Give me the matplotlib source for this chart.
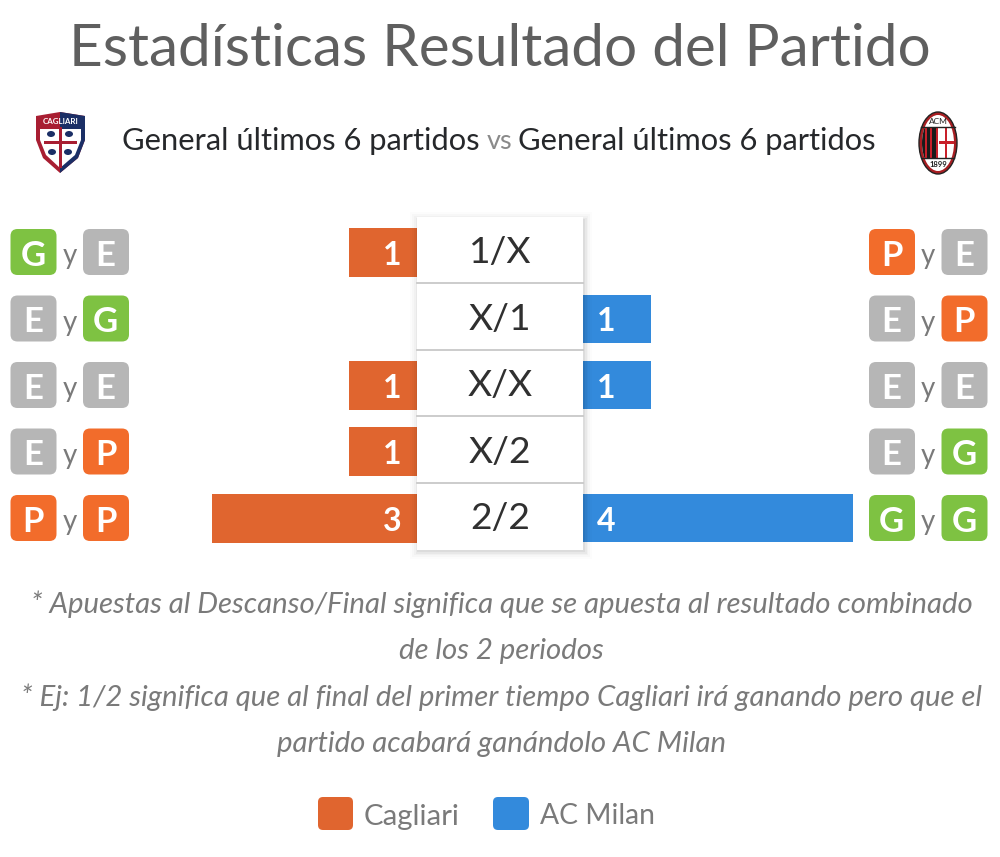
import matplotlib
matplotlib.use('Agg')
import matplotlib.pyplot as plt
from matplotlib.patches import FancyBboxPatch, Rectangle, Ellipse, Polygon

plt.rcParams['font.family'] = ['Lato', 'DejaVu Sans']

W, H = 1000, 857

# data
rows = ['1/X', 'X/1', 'X/X', 'X/2', '2/2']
cagliari = [1, 0, 1, 1, 3]
milan = [0, 1, 1, 0, 4]
left_badges = [('G', 'E'), ('E', 'G'), ('E', 'E'), ('E', 'P'), ('P', 'P')]
right_badges = [('P', 'E'), ('E', 'P'), ('E', 'E'), ('E', 'G'), ('G', 'G')]
notes = ['* Apuestas al Descanso/Final significa que se apuesta al resultado combinado',
         'de los 2 periodos',
         '* Ej: 1/2 significa que al final del primer tiempo Cagliari irá ganando pero que el',
         'partido acabará ganándolo AC Milan']

ORANGE = '#E0652F'
BLUE = '#338ADC'
BADGE = {'G': '#7EC242', 'E': '#B6B6B6', 'P': '#F26C2B'}
GREY = '#7A7A7A'

ROW_TOP, ROW_BOT = 219, 551.5
ROW_H = (ROW_BOT - ROW_TOP) / 5


def px_axes(fig, x0, x1, y0, y1):
    # axes placed with pixel coords, y going down
    ax = fig.add_axes([x0 / W, 1 - y1 / H, (x1 - x0) / W, (y1 - y0) / H])
    ax.axis('off')
    return ax


def badge(ax, x, y, letter):
    ax.add_patch(FancyBboxPatch((x + 7, y + 7), 32, 32, boxstyle='round,pad=7,rounding_size=7',
                                fc=BADGE[letter], ec='none'))
    ax.text(x + 22.5, y + 23.5, letter, color='white', fontsize=25, fontweight='bold',
            ha='center', va='center_baseline')


def badge_pair(ax, x, y, pair):
    badge(ax, x, y, pair[0])
    ax.text(x + 59, y + 24.5, 'y', color=GREY, fontsize=20, ha='center', va='center_baseline')
    badge(ax, x + 72.5, y, pair[1])


def cagliari_logo(ax):
    outline = [(36, 116), (60, 112), (85, 116), (85, 140), (78, 158), (60, 173), (43, 158), (36, 140)]
    ax.add_patch(Polygon(outline, closed=True, fc='#A81E32', ec='none'))
    ax.add_patch(Polygon([(60, 112), (85, 116), (85, 140), (78, 158), (60, 173)], closed=True,
                         fc='#1B2F66', ec='none'))
    ax.add_patch(Polygon([(40, 129), (81, 129), (81, 140), (75, 155), (60, 168), (46, 155), (40, 140)],
                         closed=True, fc='white', ec='none'))
    ax.add_patch(Rectangle((58.5, 127), 3, 41, fc='#A81E32', ec='none'))
    ax.add_patch(Rectangle((44, 141), 33, 3, fc='#A81E32', ec='none'))
    for cx, cy in [(51, 134), (69, 134), (52, 152), (68, 152)]:
        ax.add_patch(Ellipse((cx, cy), 8, 6, fc='#1B2F66', ec='none'))
    ax.text(60.5, 121.5, 'CAGLIARI', color='white', fontsize=5.8, fontweight='bold',
            ha='center', va='center')


def milan_logo(ax):
    ax.add_patch(Ellipse((938, 143), 38, 62, fc='#A81E22', ec='#222222', lw=1))
    ax.add_patch(Ellipse((938, 143), 32, 56, fc='white', ec='none'))
    clip = Ellipse((938, 143), 32, 56, transform=ax.transData)
    for x in [921, 926.5, 932]:
        r = Rectangle((x, 127), 3.6, 31, fc='#1A1A1A', ec='none')
        ax.add_patch(r)
        r.set_clip_path(clip)
    for x in [924.6, 930.1, 935.6]:
        r = Rectangle((x, 127), 1.9, 31, fc='#C8202A', ec='none')
        ax.add_patch(r)
        r.set_clip_path(clip)
    for box in [(944.5, 127, 2.5, 31), (939, 141, 16, 2.5)]:
        r = Rectangle(box[:2], box[2], box[3], fc='#C8202A', ec='none')
        ax.add_patch(r)
        r.set_clip_path(clip)
    ax.plot([921, 955], [127, 127], color='#222222', lw=1)
    ax.plot([922, 954], [158, 158], color='#222222', lw=1)
    ax.text(938, 121, 'ACM', color='#222222', fontsize=6, ha='center', va='center')
    ax.text(938, 164, '1899', color='#222222', fontsize=5.5, fontweight='bold', ha='center', va='center')


fig = plt.figure(figsize=(W / 100, H / 100), dpi=100, facecolor='white')

# bars, one axes per team sharing the row scale
ax_l = px_axes(fig, 212, 417, ROW_TOP, ROW_BOT)
ax_l.barh(range(5), cagliari, height=0.74, color=ORANGE)
ax_l.set_xlim(3, 0)
ax_l.set_ylim(4.5, -0.5)
for i, v in enumerate(cagliari):
    if v:
        ax_l.annotate(str(v), (0, i), xytext=(-18, -0.5), textcoords='offset points', color='white',
                      fontsize=23, fontweight='bold', ha='center', va='center_baseline')

ax_r = px_axes(fig, 583, 853, ROW_TOP, ROW_BOT)
ax_r.barh(range(5), milan, height=0.725, color=BLUE)
ax_r.set_xlim(0, 4)
ax_r.set_ylim(4.5, -0.5)
for i, v in enumerate(milan):
    if v:
        ax_r.annotate(str(v), (0, i), xytext=(17, -0.5), textcoords='offset points', color='white',
                      fontsize=23, fontweight='bold', ha='center', va='center_baseline')

# everything else sits on a full figure overlay in pixels
ov = px_axes(fig, 0, W, 0, H)
ov.set_zorder(5)
ov.patch.set_alpha(0)
ov.set_xlim(0, W)
ov.set_ylim(H, 0)

ov.text(500, 44, 'Estadísticas Resultado del Partido', color='#5F5F5F', fontsize=42.1,
        ha='center', va='center_baseline')
subtitle_y = 138.5
ov.text(480, subtitle_y, 'General últimos 6 partidos', color='#26282B', fontsize=22.2,
        ha='right', va='center_baseline')
ov.text(499.5, subtitle_y, 'vs', color='#8A8A8A', fontsize=19.5, ha='center', va='center_baseline')
ov.text(518, subtitle_y, 'General últimos 6 partidos', color='#26282B', fontsize=22.2,
        ha='left', va='center_baseline')
cagliari_logo(ov)
milan_logo(ov)

# soft shadow of the centre column
for grow, alpha in [(8, 0.012), (6, 0.018), (4, 0.025), (2.5, 0.035), (1, 0.05)]:
    ov.add_patch(Rectangle((417 - grow + 1, 217 - grow + 3), 166 + 2 * grow, 331 + 2 * grow,
                           fc='black', ec='none', alpha=alpha))

for i, label in enumerate(rows):
    top = ROW_TOP + i * ROW_H
    ov.add_patch(Rectangle((417, top - 2), 166, ROW_H, fc='white', ec='none'))
    if i:
        ov.plot([417, 583], [top - 2.5, top - 2.5], color='#C4C4C4', lw=1.2)
    ov.text(500, top + ROW_H / 2 - 2.5, label, color='#303030', fontsize=26.8, ha='center',
            va='center_baseline')
    badge_pair(ov, 10.5, top + 10, left_badges[i])
    badge_pair(ov, 869, top + 10, right_badges[i])

for y, line in zip([601.5, 648.5, 694.5, 741.5], notes):
    ov.text(501.5, y, line, color=GREY, fontsize=21.15, style='italic', ha='center', va='center_baseline')

# legend
ov.add_patch(FancyBboxPatch((323, 802), 25, 23, boxstyle='round,pad=5,rounding_size=5', fc=ORANGE, ec='none'))
ov.text(364, 814, 'Cagliari', color=GREY, fontsize=21.2, ha='left', va='center_baseline')
ov.add_patch(FancyBboxPatch((498, 802), 26, 23, boxstyle='round,pad=5,rounding_size=5', fc=BLUE, ec='none'))
ov.text(540, 814, 'AC Milan', color=GREY, fontsize=20.3, ha='left', va='center_baseline')

fig.savefig('out.png', dpi=100)
